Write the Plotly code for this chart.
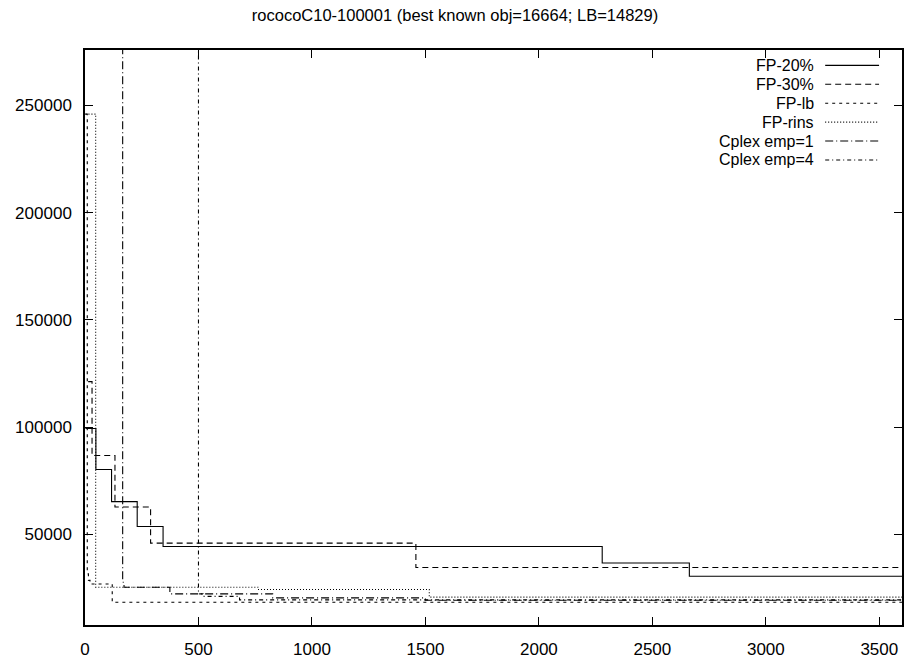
import plotly.graph_objects as go

# ---------------- data ----------------
title_text = "rococoC10-100001 (best known obj=16664; LB=14829)"

fp20_t = [2, 48, 117, 230, 344, 2279, 2663, 3600]
fp20_v = [99300, 80200, 65200, 53600, 44300, 36560, 30400, 30400]

fp30_t = [14, 31, 132, 289, 1458, 3600]
fp30_v = [121200, 86700, 62700, 45850, 34500, 34500]

fplb_t = [2, 10, 15, 22, 120, 3600]
fplb_v = [246000, 31500, 28500, 26800, 18300, 18300]

fprins_t = [2, 47, 762, 1517, 3600]
fprins_v = [246000, 25300, 24200, 20650, 20650]

emp1_t = [0, 166, 172, 374, 827, 1500, 3600]
emp1_v = [400000, 27600, 25300, 22200, 20300, 19200, 19200]

emp4_t = [0, 500, 520, 681, 3600]
emp4_v = [400000, 22200, 21000, 19400, 19400]

x_ticks = [0, 500, 1000, 1500, 2000, 2500, 3000, 3500]
y_ticks = [50000, 100000, 150000, 200000, 250000]

series = [
    ("FP-20%", fp20_t, fp20_v, "solid"),
    ("FP-30%", fp30_t, fp30_v, "6px,4px"),
    ("FP-lb", fplb_t, fplb_v, "3px,4px"),
    ("FP-rins", fprins_t, fprins_v, "1px,2px"),
    ("Cplex emp=1", emp1_t, emp1_v, "8px,3px,1px,3px"),
    ("Cplex emp=4", emp4_t, emp4_v, "4px,3px,1px,3px"),
]

W, H = 907, 662
L, R, T, B = 85, 3, 50, 34
pw, ph = W - L - R, H - T - B
FONT = "Liberation Sans, Arial, sans-serif"

fig = go.Figure()
for name, t, v, dash in series:
    fig.add_trace(go.Scatter(
        x=t, y=v, mode="lines", name=name, line_shape="hv",
        line=dict(color="black", width=1.1, dash=dash), showlegend=False,
    ))

# gnuplot-style key: text right-aligned, line sample to the right
row0, row_step = 65.5, 19
for i, (name, t, v, dash) in enumerate(series):
    py = row0 + i * row_step
    yp = (H - B - py) / ph
    fig.add_annotation(
        xref="paper", yref="paper", x=(817 - L) / pw, y=yp,
        text=name, showarrow=False, xanchor="right", yanchor="middle",
        borderpad=0,
        font=dict(family=FONT, size=16, color="black"),
    )
    fig.add_shape(
        type="line", xref="paper", yref="paper",
        x0=(827 - L) / pw, x1=(881 - L) / pw, y0=yp, y1=yp,
        line=dict(color="black", width=1.1, dash=dash),
    )

axis_common = dict(
    showline=True, linecolor="black", linewidth=1.5, mirror="ticks",
    ticks="inside", ticklen=8, tickcolor="black", tickwidth=1,
    showgrid=False, zeroline=False,
    tickfont=dict(family=FONT, size=17, color="black"),
)

fig.update_xaxes(range=[0, 3600], tickvals=x_ticks,
                 ticktext=[str(v) for v in x_ticks], ticklabelstandoff=8, **axis_common)
fig.update_yaxes(range=[7660, 275900], tickvals=y_ticks,
                 ticktext=[str(v) for v in y_ticks], ticklabelstandoff=8, **axis_common)

fig.update_layout(
    width=W, height=H,
    margin=dict(l=L, r=R, t=T, b=B),
    paper_bgcolor="white", plot_bgcolor="white",
    title=dict(text=title_text, x=455 / W, xanchor="center",
               y=1 - 15 / H, yanchor="middle",
               font=dict(family=FONT, size=16.5, color="black")),
    showlegend=False,
)

fig.write_html("out.html")
